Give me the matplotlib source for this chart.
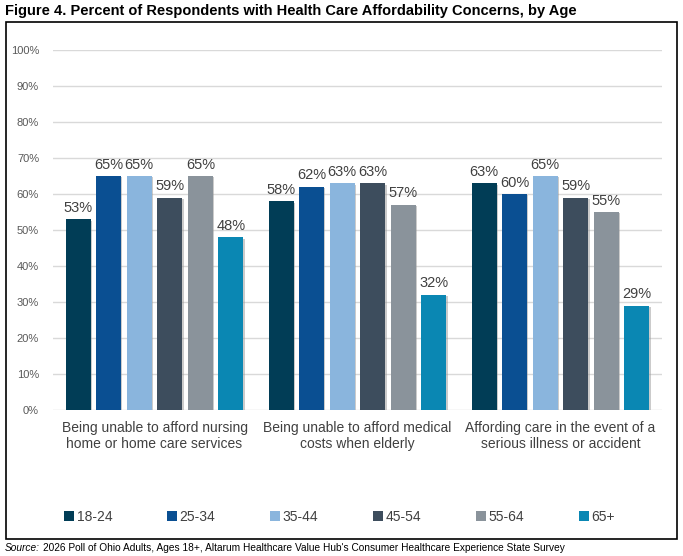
import matplotlib.pyplot as plt
from matplotlib.patches import Rectangle, Patch
import matplotlib.patheffects as pe
import numpy as np

plt.rcParams["font.family"] = ["Liberation Sans Narrow", "Liberation Sans", "DejaVu Sans"]

categories = [
    "Being unable to afford nursing\nhome or home care services",
    "Being unable to afford medical\ncosts when elderly",
    "Affording care in the event of a\nserious illness or accident",
]
ages = ["18-24", "25-34", "35-44", "45-54", "55-64", "65+"]
colors = ["#013d56", "#0a4f92", "#8ab5dd", "#3d4d5d", "#8a939b", "#0a87b3"]
values = {
    "18-24": [53, 58, 63],
    "25-34": [65, 62, 60],
    "35-44": [65, 63, 65],
    "45-54": [59, 63, 59],
    "55-64": [65, 57, 55],
    "65+": [48, 32, 29],
}

W, H = 683, 556
fig = plt.figure(figsize=(W / 100, H / 100), dpi=100)
ax = fig.add_axes([53 / W, 1 - 410 / H, 609 / W, 360 / H])

x = np.arange(len(categories))
step = 0.1507
width = 0.123
shadow = [pe.SimplePatchShadow(offset=(1, -1), shadow_rgbFace="#999999", alpha=0.5), pe.Normal()]
for i, age in enumerate(ages):
    pos = x + (i - 2.5) * step
    bars = ax.bar(pos, values[age], width=width, color=colors[i], zorder=3)
    for b in bars:
        b.set_path_effects(shadow)
    for p, v in zip(pos, values[age]):
        ax.text(p, v + 1.2, f"{v}%", ha="center", va="bottom", fontsize=10.5, color="#404040", zorder=4)

ax.set_xlim(-0.5, 2.5)
ax.set_ylim(0, 100)
ax.set_yticks(range(0, 101, 10))
ax.set_yticklabels([f"{t}%" for t in range(0, 101, 10)], fontsize=8, color="#595959")
ax.set_xticks(x)
ax.set_xticklabels(categories, fontsize=10, color="#404040", linespacing=1.15)
ax.tick_params(axis="both", length=0)
ax.tick_params(axis="x", pad=8)
ax.tick_params(axis="y", pad=10)
ax.grid(axis="y", color="#d9d9d9", linewidth=1, zorder=0)
for s in ax.spines.values():
    s.set_visible(False)

handles = [Patch(facecolor=c, label=a) for a, c in zip(ages, colors)]
fig.legend(handles=handles, loc="center left", bbox_to_anchor=(64 / W, 1 - 517 / H), ncol=6,
           frameon=False, fontsize=10, handlelength=0.7, handleheight=0.8, handletextpad=0.2,
           columnspacing=3.95, labelcolor="#404040", borderaxespad=0, borderpad=0)

fig.patches.append(Rectangle((6 / W, 1 - 539 / H), 671 / W, 517 / H, transform=fig.transFigure,
                             fill=False, edgecolor="black", linewidth=1.2))

fig.text(5 / W, 1 - 11 / H, "Figure 4. Percent of Respondents with Health Care Affordability Concerns, by Age",
         fontsize=10.5, fontweight="bold", va="center", ha="left", color="black")

src = fig.text(5 / W, 1 - 548 / H, "Source:", fontsize=7.3, style="italic", va="center", ha="left")
fig.canvas.draw()
bb = src.get_window_extent()
fig.text(bb.x1 / W + 3 / W, 1 - 548 / H,
         "2026 Poll of Ohio Adults, Ages 18+, Altarum Healthcare Value Hub's Consumer Healthcare Experience State Survey",
         fontsize=7.3, va="center", ha="left")

fig.savefig("out.png", dpi=100)
